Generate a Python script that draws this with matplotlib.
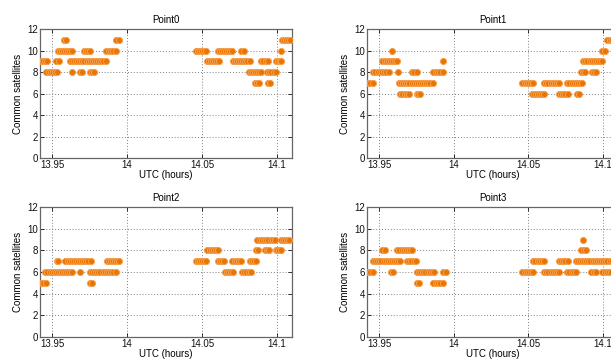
import numpy as np
import matplotlib
matplotlib.use("Agg")
import matplotlib.pyplot as plt

plt.rcParams['font.family'] = ['Liberation Sans', 'DejaVu Sans']

titles = ["Point0", "Point1", "Point2", "Point3"]
x_ticks = [13.95, 14.0, 14.05, 14.1]
x_ticklabels = ["13.95", "14", "14.05", "14.1"]
y_ticks = [0, 2, 4, 6, 8, 10, 12]
sample_step = 5 / 3600.0  # 5 s sampling (hours)

# Runs of constant satellite count: (first UTC hour, last UTC hour, count)
point0_runs = [
    (13.9425, 13.9469, 9), (13.9463, 13.9534, 8), (13.9526, 13.9544, 9),
    (13.9538, 13.9635, 10), (13.9583, 13.9591, 11), (13.9623, 13.9730, 9),
    (13.9634, 13.9639, 8), (13.9685, 13.9697, 8), (13.9716, 13.9754, 10),
    (13.9745, 13.9857, 9), (13.9756, 13.9779, 8), (13.9863, 13.9924, 10),
    (13.9929, 13.9946, 11),
    (14.0461, 14.0529, 10), (14.0534, 14.0613, 9), (14.0605, 14.0702, 10),
    (14.0705, 14.0817, 9), (14.0761, 14.0777, 10), (14.0816, 14.0895, 8),
    (14.0856, 14.0879, 7), (14.0894, 14.0939, 9), (14.0934, 14.0991, 8),
    (14.0943, 14.0951, 7), (14.0994, 14.1029, 9), (14.1028, 14.1028, 10),
    (14.1032, 14.1084, 11),
]
point1_runs = [
    (13.9425, 13.9457, 7), (13.9462, 13.9564, 8), (13.9523, 13.9624, 9),
    (13.9584, 13.9584, 10), (13.9629, 13.9629, 8), (13.9634, 13.9859, 7),
    (13.9641, 13.9703, 6), (13.9719, 13.9752, 8), (13.9753, 13.9774, 6),
    (13.9864, 13.9926, 8), (13.9931, 13.9937, 9),
    (14.0460, 14.0533, 7), (14.0527, 14.0606, 6), (14.0605, 14.0706, 7),
    (14.0705, 14.0762, 6), (14.0761, 14.0859, 7), (14.0823, 14.0840, 6),
    (14.0855, 14.0881, 8), (14.0868, 14.0992, 9), (14.0929, 14.0952, 8),
    (14.0996, 14.1011, 10), (14.1029, 14.1100, 11),
]
point2_runs = [
    (13.9425, 13.9457, 5), (13.9456, 13.9634, 6), (13.9534, 13.9542, 7),
    (13.9589, 13.9620, 7), (13.9635, 13.9700, 7), (13.9712, 13.9757, 7),
    (13.9685, 13.9691, 6), (13.9751, 13.9924, 6), (13.9756, 13.9769, 5),
    (13.9867, 13.9946, 7),
    (14.0463, 14.0526, 7), (14.0536, 14.0609, 8), (14.0609, 14.0649, 7),
    (14.0651, 14.0704, 6), (14.0703, 14.0759, 7), (14.0765, 14.0826, 6),
    (14.0818, 14.0859, 7), (14.0858, 14.0875, 8), (14.0869, 14.0986, 9),
    (14.0921, 14.0949, 8), (14.0991, 14.1026, 8), (14.1025, 14.1082, 9),
]
point3_runs = [
    (13.9425, 13.9457, 6), (13.9462, 13.9640, 7), (13.9523, 13.9542, 8),
    (13.9583, 13.9591, 6), (13.9623, 13.9724, 8), (13.9685, 13.9747, 7),
    (13.9753, 13.9870, 6), (13.9753, 13.9770, 5), (13.9864, 13.9926, 5),
    (13.9931, 13.9948, 6),
    (14.0460, 14.0533, 6), (14.0533, 14.0606, 7), (14.0605, 14.0706, 6),
    (14.0705, 14.0762, 7), (14.0761, 14.0818, 6), (14.0816, 14.1100, 7),
    (14.0855, 14.0885, 8), (14.0868, 14.0874, 9), (14.0922, 14.0952, 6),
    (14.0996, 14.1100, 6),
]
all_runs = [point0_runs, point1_runs, point2_runs, point3_runs]


def expand(runs):
    ts, vs = [], []
    for a, b, v in runs:
        n = max(1, int(round((b - a) / sample_step)) + 1)
        t = np.linspace(a, b, n)
        ts.append(t)
        vs.append(np.full(n, v))
    return np.concatenate(ts), np.concatenate(vs)


W, H = 611, 361
fig = plt.figure(figsize=(W / 100, H / 100), dpi=100)
boxes = [(40, 29, 292, 158), (367, 29, 618, 158),
         (40, 207, 292, 337), (367, 207, 618, 337)]

for i, (l, t, r, b) in enumerate(boxes):
    ax = fig.add_axes([l / W, 1 - b / H, (r - l) / W, (b - t) / H])
    x, y = expand(all_runs[i])
    ax.plot(x, y, linestyle='none', marker='o', markersize=4.4,
            markerfacecolor='#ea7400', markeredgecolor='#f5a050',
            markeredgewidth=0.7, zorder=3)
    ax.set_xlim(13.942, 14.11)
    ax.set_ylim(0, 12)
    ax.set_xticks(x_ticks)
    ax.set_xticklabels(x_ticklabels)
    ax.set_yticks(y_ticks)
    ax.grid(True, linestyle=(0, (1, 2)), color='#808080', linewidth=0.7)
    ax.tick_params(direction='in', length=3, width=0.6, labelsize=7,
                   pad=1.5, colors='#111111', top=True, right=True)
    for s in ax.spines.values():
        s.set_color('#666666')
        s.set_linewidth(0.9)
    ax.set_title(titles[i], fontsize=7, pad=4)
    ax.set_xlabel("UTC (hours)", fontsize=7, labelpad=0)
    ax.set_ylabel("Common satellites", fontsize=7, labelpad=3)

fig.savefig("out.png", dpi=100)
